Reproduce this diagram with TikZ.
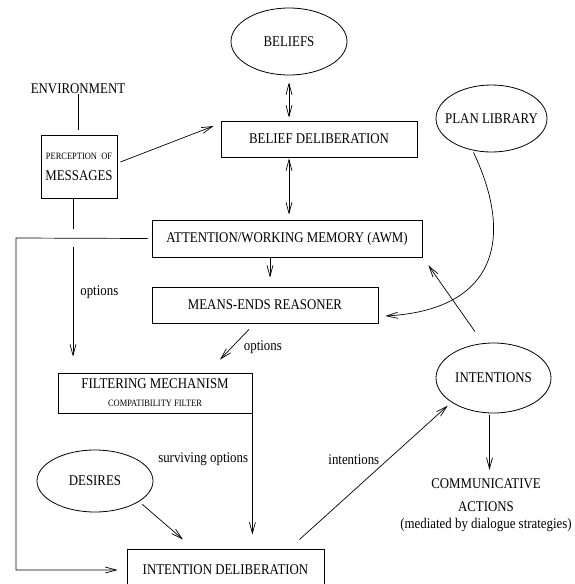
\documentclass[tikz,border=0pt]{standalone}
\usepackage{fontspec}
\setmainfont{Liberation Serif}[FakeStretch=0.87]
\usetikzlibrary{shapes.geometric, arrows.meta}
\newcommand{\tinysz}{\fontsize{9.7}{11}\selectfont}

\begin{document}
\begin{tikzpicture}
        [x=1pt, y=-1pt, line width=0.7pt, >={Straight Barb[length=11pt,width=6pt]},
        every node/.style={font=\fontsize{14.8}{17}\selectfont, inner sep=0},
        box/.style={draw, rectangle, line width=0.8pt},
        oval/.style={draw, ellipse, line width=0.8pt}]

        \useasboundingbox (0, 0) rectangle (575, 584);

        \node[oval, minimum width=116pt, minimum height=67pt] (beliefs) at (289, 41.5) {\makebox[0pt]{BELIEFS}};
        \node[box, minimum width=196pt, minimum height=36pt] (bdelib) at (319, 139) {BELIEF DELIBERATION};
        \node[oval, minimum width=111pt, minimum height=67pt] (planlib) at (491.5, 118.5) {\makebox[0pt]{PLAN LIBRARY}};
        \node (env) at (78, 89) {ENVIRONMENT};
        \node[box, minimum width=76pt, minimum height=63pt, align=center] (percept) at (79, 166.5) {{\tinysz PERCEPTION\ \ OF}\\[4pt]MESSAGES};
        \node[box, minimum width=270pt, minimum height=37pt] (awm) at (287, 238.5) {ATTENTION/WORKING MEMORY (AWM)};
        \node[box, minimum width=226pt, minimum height=36pt] (mer) at (265, 305) {MEANS-ENDS REASONER};
        \node[box, minimum width=194pt, minimum height=40pt, align=center] (filter) at (155, 393) {FILTERING MECHANISM\\[1pt]{\tinysz COMPATIBILITY FILTER}};
        \node[oval, minimum width=116pt, minimum height=62pt] (desires) at (95, 481) {\makebox[0pt]{DESIRES}};
        \node[box, minimum width=197pt, minimum height=42pt] (idelib) at (225.5, 570) {INTENTION DELIBERATION};
        \node[oval, minimum width=115pt, minimum height=70pt] (intent) at (493.5, 378) {\makebox[0pt]{INTENTIONS}};
        \node[anchor=north, align=center] (comm) at (486, 478) {COMMUNICATIVE\\[6pt]ACTIONS\\(mediated by dialogue strategies)};

        \coordinate (cross) at (73, 238);
        \coordinate (loop) at (16, 238);
        \coordinate (amid) at ([xshift=-17pt]awm.south);
        \coordinate (ibot) at ([xshift=-4pt]intent.south);

        \draw[<->, shorten <=7pt, shorten >=3pt] (beliefs.south) -- (beliefs.south |- bdelib.north);
        \draw[<->, shorten <=1pt, shorten >=5pt] (beliefs.south |- bdelib.south) -- (beliefs.south |- awm.north);
        \draw[->] ([xshift=3pt,yshift=4.5pt]percept.east) -- ([xshift=-7pt,yshift=13pt]bdelib.west);
        \draw[shorten >=5pt] (env.south) -- (env.south |- percept.north);
        \draw ([xshift=-6pt]percept.south) -- ([yshift=9pt]cross);
        \draw[->, shorten >=16pt] ([yshift=-9pt]cross) -- (cross |- filter.north) node[pos=0.36, right=7pt] {options};
        \draw[->, shorten >=9pt] ([xshift=-4pt]awm.west) -- (loop) |- (idelib.west);
        \draw[->, shorten <=1pt, shorten >=9pt] (amid) -- (amid |- mer.north);
        \draw[->] ([xshift=-16pt,yshift=-6pt]mer.south) -- ([xshift=65pt,yshift=13pt]filter.north) node[pos=0.6, right=12pt] {options};
        \draw[->, shorten >=14pt] (filter.south east) ++(0, -3) -- (filter.south east |- idelib.north) node[pos=0.35, left=4pt] {surviving options};
        \draw[->, shorten <=4pt, shorten >=14pt] (desires.-25) -- ([xshift=-32pt]idelib.north);
        \draw[->, shorten >=5pt] ([xshift=-25pt,yshift=9pt]idelib.north east) -- (intent.210) node[pos=0.58, left=8pt] {intentions};
        \draw[->, shorten <=2pt, shorten >=8pt] (ibot) -- (ibot |- comm.north);
        \draw[->] ([xshift=-18.5pt,yshift=11pt]intent.north) -- ([xshift=6pt,yshift=-8pt]awm.south east);
        \draw[->] ([xshift=-18pt]planlib.south) .. controls (515, 240) and (495, 310) .. ([xshift=7pt,yshift=-11pt]mer.east);
      \end{tikzpicture}
\end{document}
